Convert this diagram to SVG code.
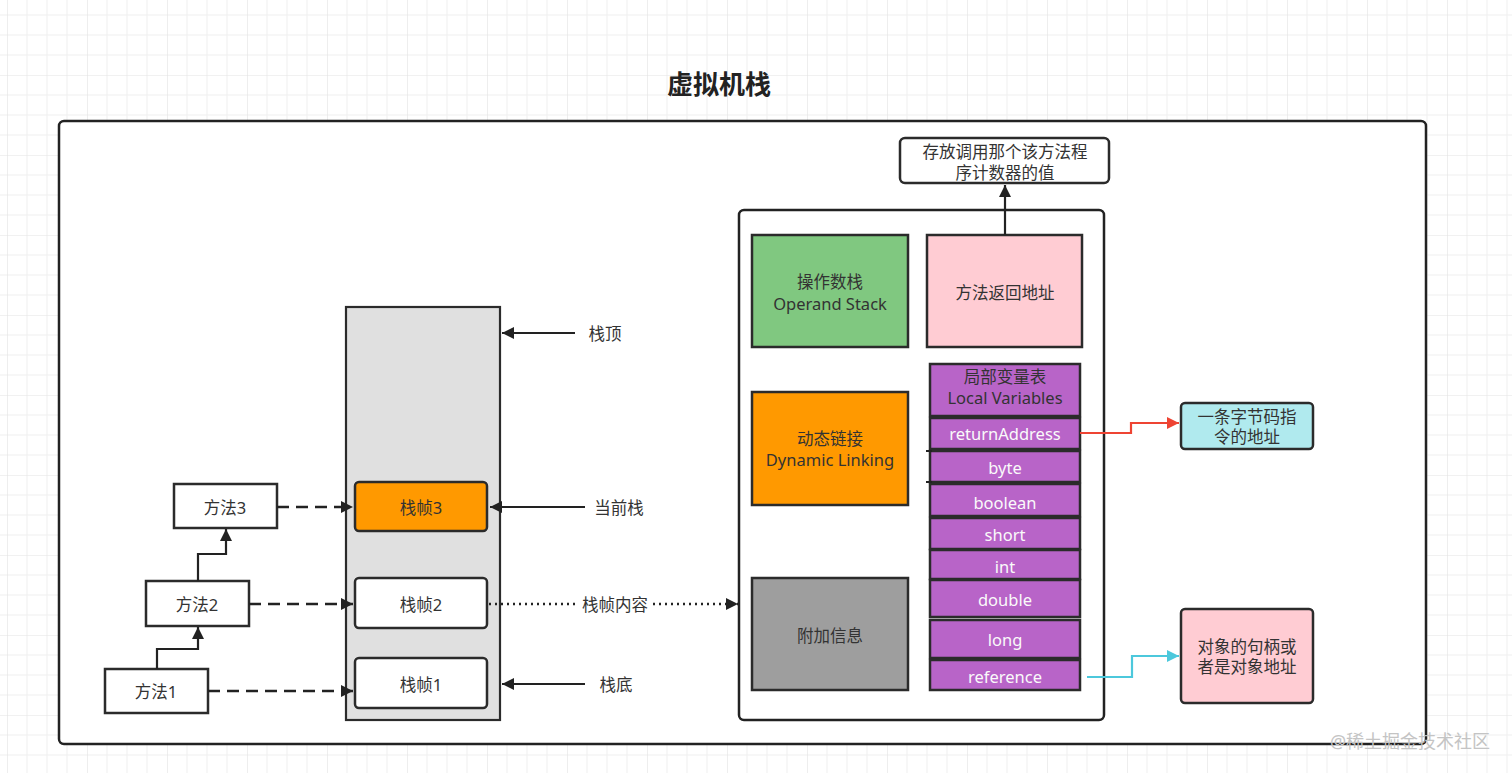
<svg xmlns="http://www.w3.org/2000/svg" width="1512" height="773" viewBox="0 0 1512 773">
<defs>
<pattern id="grid" x="7" y="-5" width="80" height="80" patternUnits="userSpaceOnUse">
<path d="M20,0V80M40,0V80M60,0V80M0,20H80M0,40H80M0,60H80" stroke="#efefef" stroke-width="1" fill="none"/>
<path d="M0,0V80M0,0H80" stroke="#e3e3e3" stroke-width="1.2" fill="none"/>
</pattern>
<marker id="ah" viewBox="0 0 10 10" refX="10" refY="5" markerUnits="userSpaceOnUse" markerWidth="14" markerHeight="12" orient="auto">
<path d="M0,0L10,5L0,10z" fill="#222"/>
</marker>
<marker id="ahr" viewBox="0 0 10 10" refX="10" refY="5" markerUnits="userSpaceOnUse" markerWidth="14" markerHeight="12" orient="auto">
<path d="M0,0L10,5L0,10z" fill="#ee4433"/>
</marker>
<marker id="ahc" viewBox="0 0 10 10" refX="10" refY="5" markerUnits="userSpaceOnUse" markerWidth="14" markerHeight="12" orient="auto">
<path d="M0,0L10,5L0,10z" fill="#4cc8dc"/>
</marker>
<style>
text{font-family:"Noto Sans","Noto Sans CJK SC",sans-serif;font-size:16.5px;fill:#333;text-anchor:middle;dominant-baseline:central}
.box{stroke:#2b2b2b;stroke-width:2.5}
.w{fill:#fff}
.pur{fill:#b864c8;stroke:#2b2b2b;stroke-width:2.5}
.wt{fill:#fafafa}
.ln{fill:none;stroke:#222;stroke-width:2.2}
.dash{fill:none;stroke:#222;stroke-width:2.5;stroke-dasharray:12,7}
.dot{fill:none;stroke:#222;stroke-width:2.4;stroke-dasharray:2,4}
</style>
</defs>
<rect width="1512" height="773" fill="#fff"/>
<rect width="1512" height="773" fill="url(#grid)"/>
<text x="719" y="84" style="font-size:26px;font-weight:bold;fill:#222">虚拟机栈</text>
<rect id="outer" x="59" y="121" width="1367" height="623" rx="5" fill="#fff" stroke="#222" stroke-width="2.5"/>

<g id="stack">
<rect x="346" y="307" width="154" height="413" fill="#e0e0e0" stroke="#2b2b2b" stroke-width="2.2"/>
</g>
<g id="frame3"><rect class="box" x="355" y="482" width="132" height="49" rx="4" fill="#ff9900"/><text x="421" y="507">栈帧3</text></g>
<g id="frame2"><rect class="box w" x="355" y="578" width="132" height="50" rx="4"/><text x="421" y="604">栈帧2</text></g>
<g id="frame1"><rect class="box w" x="355" y="658" width="132" height="50" rx="4"/><text x="421" y="684">栈帧1</text></g>
<g id="m3"><rect class="box w" x="174" y="484" width="103" height="44"/><text x="225" y="507">方法3</text></g>
<g id="m2"><rect class="box w" x="146" y="581" width="103" height="45"/><text x="197" y="604">方法2</text></g>
<g id="m1"><rect class="box w" x="105" y="669" width="103" height="44"/><text x="156" y="691">方法1</text></g>
<g id="lbl-top"><text x="605" y="333">栈顶</text></g>
<g id="lbl-cur"><text x="619" y="507">当前栈</text></g>
<g id="lbl-bot"><text x="616" y="684">栈底</text></g>

<g id="panel"><rect x="739" y="210" width="365" height="510" rx="5" fill="#fff" stroke="#222" stroke-width="2.5"/></g>
<g id="opstack"><rect class="box" x="752" y="235" width="156" height="112" fill="#80c880"/><text x="830" y="281">操作数栈</text><text x="830" y="303">Operand Stack</text></g>
<g id="retaddr"><rect class="box" x="927" y="235" width="155" height="112" fill="#ffccd3"/><text x="1005" y="292">方法返回地址</text></g>
<g id="pcnote"><rect class="box w" x="900" y="138" width="209" height="45" rx="5"/><text x="1005" y="151">存放调用那个该方法程</text><text x="1005" y="172">序计数器的值</text></g>
<g id="dynlink"><rect class="box" x="752" y="392" width="156" height="113" fill="#ff9900"/><text x="830" y="438">动态链接</text><text x="830" y="459">Dynamic Linking</text></g>
<g id="extra"><rect class="box" x="752" y="578" width="156" height="112" fill="#9e9e9e"/><text x="830" y="635">附加信息</text></g>

<g id="localvars">
<rect class="pur" x="930" y="364" width="150" height="52"/><text x="1005" y="376">局部变量表</text><text x="1005" y="397">Local Variables</text>
<rect class="pur" x="930" y="418" width="150" height="31"/><text class="wt" x="1005" y="433">returnAddress</text>
<rect class="pur" x="930" y="451" width="150" height="31"/><text class="wt" x="1005" y="467">byte</text>
<rect class="pur" x="930" y="484" width="150" height="32"/><text class="wt" x="1005" y="502">boolean</text>
<rect class="pur" x="930" y="518" width="150" height="31"/><text class="wt" x="1005" y="534">short</text>
<rect class="pur" x="930" y="550" width="150" height="29"/><text class="wt" x="1005" y="566">int</text>
<rect class="pur" x="930" y="580" width="150" height="37"/><text class="wt" x="1005" y="599">double</text>
<rect class="pur" x="930" y="620" width="150" height="38"/><text class="wt" x="1005" y="639">long</text>
<rect class="pur" x="930" y="660" width="150" height="30"/><text class="wt" x="1005" y="676">reference</text>
<path d="M926,451H932M926,482H932" stroke="#222" stroke-width="2"/>
</g>
<g id="bytecode"><rect class="box" x="1181" y="403" width="132" height="46" rx="4" fill="#b0eaee"/><text x="1247" y="416">一条字节码指</text><text x="1247" y="436">令的地址</text></g>
<g id="objref"><rect class="box" x="1181" y="609" width="132" height="94" rx="4" fill="#ffccd3"/><text x="1247" y="646">对象的句柄或</text><text x="1247" y="666">者是对象地址</text></g>

<g id="connectors">
<path class="dash" d="M277,507H353" marker-end="url(#ah)"/>
<path class="dash" d="M249,604H353" marker-end="url(#ah)"/>
<path class="dash" d="M208,691H353" marker-end="url(#ah)"/>
<path class="ln" d="M157,669V649H198V627" marker-end="url(#ah)"/>
<path class="ln" d="M198,581V554H226V529" marker-end="url(#ah)"/>
<path class="ln" d="M575,333H502" marker-end="url(#ah)"/>
<path class="ln" d="M585,507H490" marker-end="url(#ah)"/>
<path class="ln" d="M585,684H502" marker-end="url(#ah)"/>
<path class="dot" d="M489,604H578"/>
<path class="dot" d="M653,604H738" marker-end="url(#ah)"/>
<text x="615" y="604" style="fill:#333">栈帧内容</text>
<path class="ln" d="M1005,235V185" marker-end="url(#ah)"/>
<path d="M1080,433H1131V423H1179" fill="none" stroke="#ee4433" stroke-width="2.2" marker-end="url(#ahr)"/>
<path d="M1087,677H1132V656H1179" fill="none" stroke="#4cc8dc" stroke-width="2.2" marker-end="url(#ahc)"/>
</g>
<text x="1410" y="741" style="font-size:18px;fill:#c4c4c4">@稀土掘金技术社区</text>
</svg>
